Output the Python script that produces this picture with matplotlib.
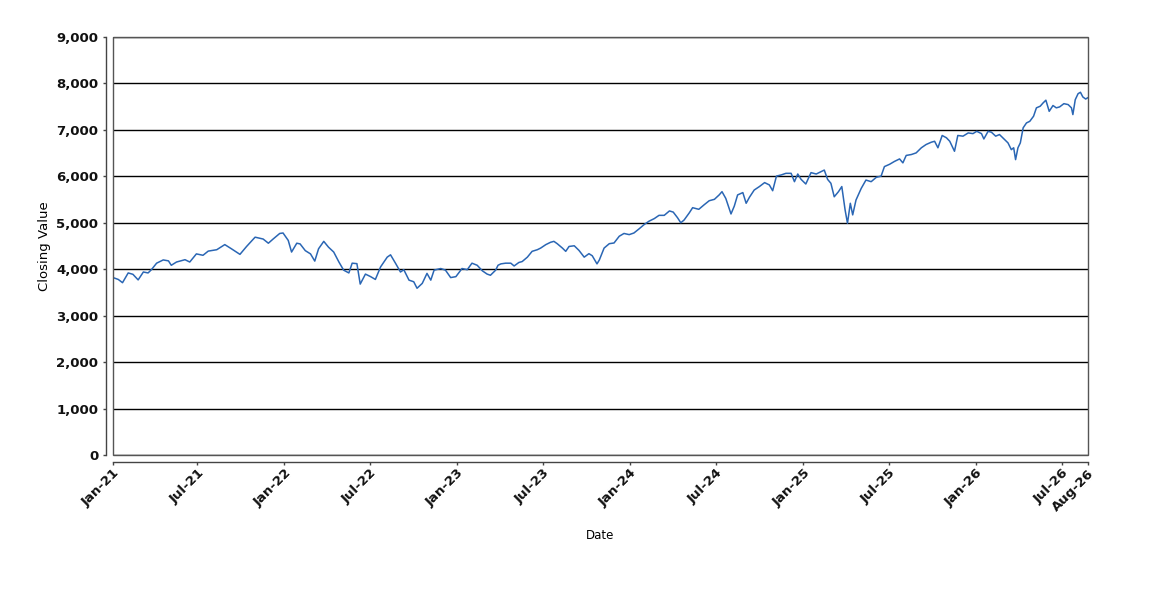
import matplotlib
matplotlib.use("Agg")
import matplotlib.pyplot as plt
from matplotlib.patches import Rectangle
from matplotlib.ticker import FuncFormatter
import pandas as pd

# Closing values, grouped by year as (date, close)
close_2021 = [
    ("2021-01-04", 3820), ("2021-01-15", 3780), ("2021-01-24", 3710), ("2021-02-05", 3920),
    ("2021-02-15", 3890), ("2021-02-26", 3770), ("2021-03-09", 3940), ("2021-03-19", 3920),
    ("2021-03-26", 3990), ("2021-04-06", 4130), ("2021-04-20", 4200), ("2021-05-01", 4180),
    ("2021-05-07", 4085), ("2021-05-18", 4155), ("2021-06-05", 4205), ("2021-06-15", 4155),
    ("2021-06-29", 4330), ("2021-07-13", 4300), ("2021-07-24", 4390), ("2021-08-11", 4420),
    ("2021-08-28", 4530), ("2021-09-11", 4440), ("2021-09-29", 4320), ("2021-10-13", 4490),
    ("2021-10-31", 4690), ("2021-11-17", 4650), ("2021-11-28", 4560), ("2021-12-08", 4650),
    ("2021-12-22", 4770), ("2021-12-29", 4780),
]
close_2022 = [
    ("2022-01-09", 4620), ("2022-01-16", 4370), ("2022-01-27", 4560), ("2022-02-03", 4545),
    ("2022-02-14", 4400), ("2022-02-25", 4330), ("2022-03-06", 4175), ("2022-03-14", 4440),
    ("2022-03-25", 4600), ("2022-04-04", 4475), ("2022-04-15", 4370), ("2022-04-26", 4155),
    ("2022-05-06", 3980), ("2022-05-17", 3920), ("2022-05-24", 4130), ("2022-06-03", 4120),
    ("2022-06-10", 3680), ("2022-06-21", 3895), ("2022-07-02", 3840), ("2022-07-12", 3780),
    ("2022-07-23", 4050), ("2022-08-06", 4260), ("2022-08-13", 4310), ("2022-08-24", 4120),
    ("2022-09-03", 3940), ("2022-09-10", 3990), ("2022-09-21", 3765), ("2022-10-01", 3730),
    ("2022-10-08", 3590), ("2022-10-19", 3695), ("2022-10-29", 3910), ("2022-11-06", 3765),
    ("2022-11-13", 3980), ("2022-11-27", 4015), ("2022-12-07", 3980), ("2022-12-18", 3820),
    ("2022-12-29", 3840),
]
close_2023 = [
    ("2023-01-11", 4015), ("2023-01-22", 3990), ("2023-02-01", 4130), ("2023-02-12", 4085),
    ("2023-02-23", 3965), ("2023-03-05", 3895), ("2023-03-12", 3870), ("2023-03-23", 3980),
    ("2023-03-28", 4085), ("2023-04-03", 4115), ("2023-04-13", 4130), ("2023-04-24", 4130),
    ("2023-05-01", 4070), ("2023-05-11", 4145), ("2023-05-18", 4165), ("2023-05-29", 4260),
    ("2023-06-08", 4385), ("2023-06-19", 4420), ("2023-06-26", 4455), ("2023-07-07", 4530),
    ("2023-07-17", 4580), ("2023-07-24", 4600), ("2023-07-31", 4550), ("2023-08-11", 4455),
    ("2023-08-18", 4385), ("2023-08-25", 4490), ("2023-09-05", 4505), ("2023-09-15", 4405),
    ("2023-09-26", 4260), ("2023-10-06", 4335), ("2023-10-13", 4290), ("2023-10-23", 4115),
    ("2023-10-28", 4200), ("2023-11-07", 4455), ("2023-11-18", 4550), ("2023-11-28", 4565),
    ("2023-12-09", 4710), ("2023-12-19", 4770), ("2023-12-30", 4745),
]
close_2024 = [
    ("2024-01-09", 4780), ("2024-01-20", 4870), ("2024-01-31", 4965), ("2024-02-10", 5035),
    ("2024-02-21", 5090), ("2024-03-02", 5160), ("2024-03-13", 5160), ("2024-03-24", 5255),
    ("2024-04-01", 5230), ("2024-04-10", 5110), ("2024-04-17", 5000), ("2024-04-24", 5060),
    ("2024-05-05", 5215), ("2024-05-12", 5325), ("2024-05-25", 5290), ("2024-06-05", 5385),
    ("2024-06-16", 5475), ("2024-06-27", 5505), ("2024-07-07", 5600), ("2024-07-13", 5670),
    ("2024-07-21", 5525), ("2024-08-01", 5190), ("2024-08-08", 5360), ("2024-08-15", 5600),
    ("2024-08-26", 5650), ("2024-09-02", 5420), ("2024-09-09", 5550), ("2024-09-19", 5705),
    ("2024-09-30", 5780), ("2024-10-11", 5865), ("2024-10-21", 5815), ("2024-10-28", 5690),
    ("2024-11-05", 6005), ("2024-11-15", 6030), ("2024-11-25", 6065), ("2024-12-06", 6065),
    ("2024-12-13", 5885), ("2024-12-20", 6050), ("2024-12-27", 5935),
]
close_2025 = [
    ("2025-01-06", 5835), ("2025-01-17", 6080), ("2025-01-28", 6050), ("2025-02-07", 6100),
    ("2025-02-14", 6135), ("2025-02-21", 5935), ("2025-02-28", 5850), ("2025-03-07", 5560),
    ("2025-03-16", 5670), ("2025-03-23", 5780), ("2025-03-30", 5275), ("2025-04-04", 4990),
    ("2025-04-10", 5420), ("2025-04-15", 5170), ("2025-04-22", 5490), ("2025-05-03", 5740),
    ("2025-05-13", 5920), ("2025-05-24", 5885), ("2025-06-04", 5980), ("2025-06-14", 6005),
    ("2025-06-21", 6210), ("2025-07-02", 6260), ("2025-07-12", 6320), ("2025-07-23", 6375),
    ("2025-07-30", 6290), ("2025-08-06", 6450), ("2025-08-17", 6470), ("2025-08-27", 6505),
    ("2025-09-07", 6615), ("2025-09-17", 6685), ("2025-09-28", 6735), ("2025-10-05", 6755),
    ("2025-10-12", 6615), ("2025-10-21", 6880), ("2025-10-30", 6830), ("2025-11-06", 6755),
    ("2025-11-11", 6650), ("2025-11-16", 6540), ("2025-11-23", 6880), ("2025-12-04", 6865),
    ("2025-12-15", 6935), ("2025-12-25", 6920),
]
close_2026 = [
    ("2026-01-02", 6970), ("2026-01-12", 6920), ("2026-01-17", 6805), ("2026-01-26", 6970),
    ("2026-02-02", 6950), ("2026-02-11", 6865), ("2026-02-19", 6900), ("2026-03-02", 6790),
    ("2026-03-09", 6720), ("2026-03-16", 6575), ("2026-03-21", 6615), ("2026-03-25", 6360),
    ("2026-03-30", 6615), ("2026-04-04", 6720), ("2026-04-10", 7045), ("2026-04-17", 7150),
    ("2026-04-24", 7185), ("2026-05-02", 7295), ("2026-05-08", 7475), ("2026-05-16", 7510),
    ("2026-05-22", 7580), ("2026-05-28", 7640), ("2026-06-04", 7400), ("2026-06-12", 7525),
    ("2026-06-19", 7475), ("2026-06-26", 7495), ("2026-07-05", 7565), ("2026-07-14", 7545),
    ("2026-07-21", 7475), ("2026-07-24", 7330), ("2026-07-29", 7650), ("2026-08-04", 7780),
    ("2026-08-09", 7810), ("2026-08-14", 7710), ("2026-08-20", 7665), ("2026-08-24", 7690),
]

tick_dates = ["2021-01-04", "2021-07-01", "2022-01-01", "2022-07-01", "2023-01-01",
              "2023-07-01", "2024-01-01", "2024-07-01", "2025-01-01", "2025-07-01",
              "2026-01-01", "2026-07-01", "2026-08-24"]
tick_labels = ["Jan-21", "Jul-21", "Jan-22", "Jul-22", "Jan-23", "Jul-23", "Jan-24",
               "Jul-24", "Jan-25", "Jul-25", "Jan-26", "Jul-26", "Aug-26"]
y_ticks = [0, 1000, 2000, 3000, 4000, 5000, 6000, 7000, 8000, 9000]

rows = close_2021 + close_2022 + close_2023 + close_2024 + close_2025 + close_2026
df = pd.DataFrame(rows, columns=["Date", "Close"])
df["Date"] = pd.to_datetime(df["Date"])

fig = plt.figure(figsize=(11.5, 6), dpi=100)
ax = fig.add_axes([0.0983, 0.2417, 0.8474, 0.6966])

ax.plot(df["Date"], df["Close"], color="#2a66b4", linewidth=1.1, zorder=3)

ax.set_xlim(pd.Timestamp(tick_dates[0]), pd.Timestamp(tick_dates[-1]))
ax.set_ylim(0, 9000)
ax.set_yticks(y_ticks)
ax.yaxis.set_major_formatter(FuncFormatter(lambda v, p: f"{int(v):,}"))
ax.set_xticks(pd.to_datetime(tick_dates))
ax.set_xticklabels(tick_labels)

# horizontal grid, black
ax.grid(axis="y", color="black", linewidth=1.0, zorder=1)
ax.set_axisbelow(True)

# plot box plus axis lines pulled out a few pixels
for side in ["top", "right"]:
    ax.spines[side].set_visible(False)
for side in ["left", "bottom"]:
    ax.spines[side].set_position(("outward", 5))
    ax.spines[side].set_color("#444444")
    ax.spines[side].set_linewidth(1.0)
ax.add_patch(Rectangle((0, 0), 1, 1, transform=ax.transAxes, fill=False,
                       edgecolor="#555555", linewidth=1.0, clip_on=False, zorder=4))

ax.tick_params(axis="both", direction="out", length=2.5, width=1.0, color="#444444",
               labelsize=9.5, pad=3)
ax.tick_params(axis="x", labelrotation=45, pad=1)

ax.set_ylabel("Closing Value", fontsize=9.5, labelpad=4)
ax.set_xlabel("Date", fontsize=8.5, labelpad=11)

# style the tick labels last so nothing resets them
for lab in ax.get_yticklabels():
    lab.set_fontweight("bold")
    lab.set_color("#111111")
for lab in ax.get_xticklabels():
    lab.set_fontweight("bold")
    lab.set_color("#111111")
    lab.set_rotation(45)
    lab.set_ha("right")
    lab.set_va("top")
    lab.set_rotation_mode("anchor")

fig.savefig("out.png", dpi=100)
